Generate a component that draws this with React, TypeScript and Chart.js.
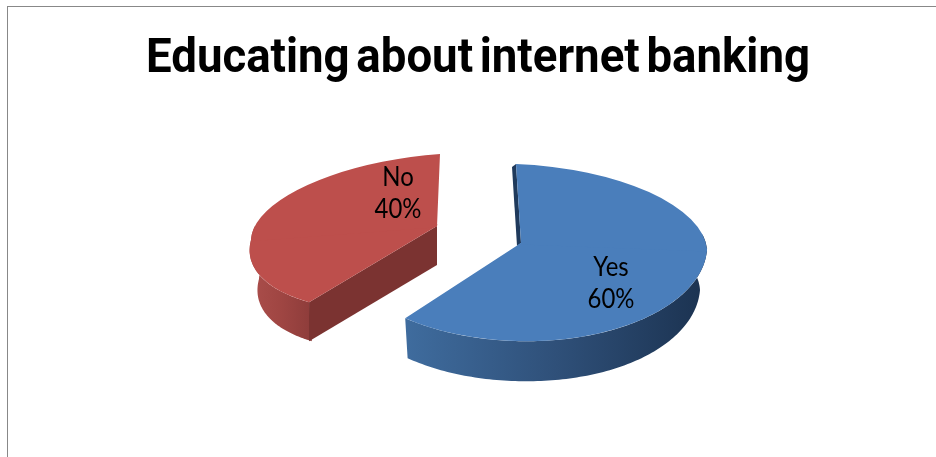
import React, { useEffect, useRef } from "react";
import { Chart, registerables } from "chart.js";

Chart.register(...registerables);

const chartTitle = "Educating about internet banking";
const categories = ["Yes", "No"];
const shares = [60, 40];
const faceColors = ["#4a7ebb", "#bd4f4c"];

// Projection of each slice's unit circle onto the page, giving the tilted, exploded look.
const projections = [
  { ax: 521, ay: 243, rx: 186, skew: 7, ryTop: 79, ryBottom: 98, shearTop: 5, shearBottom: -8, depth: 40, inset: 7,
    wall: ["#3f6c9e", "#2f5079", "#1b3250"],
    cut: { dx: -4, dy: 3, color: "#1f3a5c" },
    label: { dx: 90, dy: 41 } },
  { ax: 437, ay: 226, rx: 186, skew: -14, ryTop: 72, ryBottom: 84, shearTop: -3, shearBottom: -23, depth: 39, inset: 8,
    wall: ["#ab4e4b", "#a04643", "#8f3d3b"],
    cut: { dx: 0, dy: 39, color: "#7b3331" },
    label: { dx: -39, dy: -32 } },
];

const project = (p: any, theta: number) => {
  const u = Math.cos(theta);
  const v = Math.sin(theta);
  const up = v < 0;
  return {
    x: p.ax + p.rx * u + (up ? p.shearTop : p.shearBottom) * v,
    y: p.ay + p.skew * u + (up ? p.ryTop : p.ryBottom) * v,
    u,
  };
};

const drawWall = (ctx: CanvasRenderingContext2D, p: any, arc: any) => {
  const from = Math.max(arc.startAngle, -0.2);
  const to = Math.min(arc.endAngle, Math.PI + 0.2);
  if (to <= from) return;
  const rim: { x: number; y: number; u: number }[] = [];
  const steps = 120;
  for (let i = 0; i <= steps; i++) rim.push(project(p, from + ((to - from) * i) / steps));
  const xs = rim.map((r) => r.x);
  const grad = ctx.createLinearGradient(Math.min(...xs), 0, Math.max(...xs), 0);
  p.wall.forEach((c: string, i: number) => grad.addColorStop(i / (p.wall.length - 1), c));
  ctx.beginPath();
  rim.forEach((r, i) => (i ? ctx.lineTo(r.x, r.y) : ctx.moveTo(r.x, r.y)));
  // The far rim of the wall sits a little inside the near one, as seen in perspective.
  [...rim].reverse().forEach((r) => ctx.lineTo(r.x - p.inset * r.u * Math.abs(r.u), r.y + p.depth));
  ctx.closePath();
  ctx.fillStyle = grad;
  ctx.fill();
};

const drawCut = (ctx: CanvasRenderingContext2D, p: any, arc: any) => {
  const edge = project(p, arc.startAngle);
  ctx.beginPath();
  ctx.moveTo(p.ax, p.ay);
  ctx.lineTo(edge.x, edge.y);
  ctx.lineTo(edge.x + p.cut.dx, edge.y + p.cut.dy);
  ctx.lineTo(p.ax + p.cut.dx, p.ay + p.cut.dy);
  ctx.closePath();
  ctx.fillStyle = p.cut.color;
  ctx.fill();
};

// The arc element paints itself twice, once per half, so the near half can be stretched more.
const drawFace = (ctx: CanvasRenderingContext2D, p: any, arc: any) => {
  const R = arc.outerRadius;
  const overlap = 4;
  [false, true].forEach((upper) => {
    const a = p.rx / R;
    const b = p.skew / R;
    const c = (upper ? p.shearTop : p.shearBottom) / R;
    const d = (upper ? p.ryTop : p.ryBottom) / R;
    ctx.save();
    ctx.transform(a, b, c, d, p.ax - a * arc.x - c * arc.y, p.ay - b * arc.x - d * arc.y);
    ctx.beginPath();
    ctx.rect(arc.x - 2 * R, upper ? arc.y - 2 * R : arc.y - overlap, 4 * R, 2 * R + overlap);
    ctx.clip();
    arc.draw(ctx);
    ctx.restore();
  });
};

const tiltedPie = {
  id: "tiltedPie",
  beforeDatasetDraw: () => false,
  afterDatasetsDraw(chart: any) {
    const { ctx } = chart;
    const arcs = chart.getDatasetMeta(0).data;
    const total = shares.reduce((s, v) => s + v, 0);
    arcs.forEach((arc: any, i: number) => {
      const p = projections[i];
      ctx.save();
      drawWall(ctx, p, arc);
      drawCut(ctx, p, arc);
      drawFace(ctx, p, arc);
      ctx.restore();
    });
    arcs.forEach((_: any, i: number) => {
      const p = projections[i];
      const x = p.ax + p.label.dx;
      const y = p.ay + p.label.dy;
      ctx.save();
      ctx.fillStyle = "#000000";
      ctx.font = "26px Lato";
      ctx.textAlign = "center";
      ctx.textBaseline = "middle";
      const lines = [categories[i], `${Math.round((shares[i] / total) * 100)}%`];
      lines.forEach((line, n) => {
        ctx.fillText(line, x, y + (n ? 16 : -16), ctx.measureText(line).width * 0.92);
      });
      ctx.restore();
    });
  },
  // Heavy condensed heading, squeezed to the width of the plot's header band.
  afterDraw(chart: any) {
    const { ctx } = chart;
    ctx.save();
    ctx.fillStyle = "#000000";
    ctx.font = "bold 49px Roboto";
    (ctx as any).wordSpacing = "-5px";
    ctx.textAlign = "center";
    ctx.textBaseline = "alphabetic";
    ctx.fillText(chartTitle, 478, 72, 664);
    ctx.restore();
  },
};

export default function App() {
  const canvasRef = useRef<HTMLCanvasElement | null>(null);

  useEffect(() => {
    document.body.style.margin = "0";
    const chart = new Chart(canvasRef.current as HTMLCanvasElement, {
      type: "pie",
      data: {
        labels: categories,
        datasets: [{ data: shares, backgroundColor: faceColors, borderWidth: 0, hoverOffset: 0 }],
      },
      options: {
        animation: false,
        responsive: false,
        plugins: {
          legend: { display: false },
          tooltip: { enabled: false },
        },
      },
      plugins: [tiltedPie],
    } as any);
    return () => chart.destroy();
  }, []);

  return (
    <div style={{ position: "relative", width: 936, height: 457, overflow: "hidden", background: "#ffffff" }}>
      <canvas ref={canvasRef} width={936} height={457} style={{ display: "block" }} />
      <div
        style={{
          position: "absolute",
          left: 7,
          top: 6,
          right: -2,
          bottom: -2,
          borderLeft: "1px solid #888888",
          borderTop: "1px solid #888888",
        }}
      />
    </div>
  );
}
